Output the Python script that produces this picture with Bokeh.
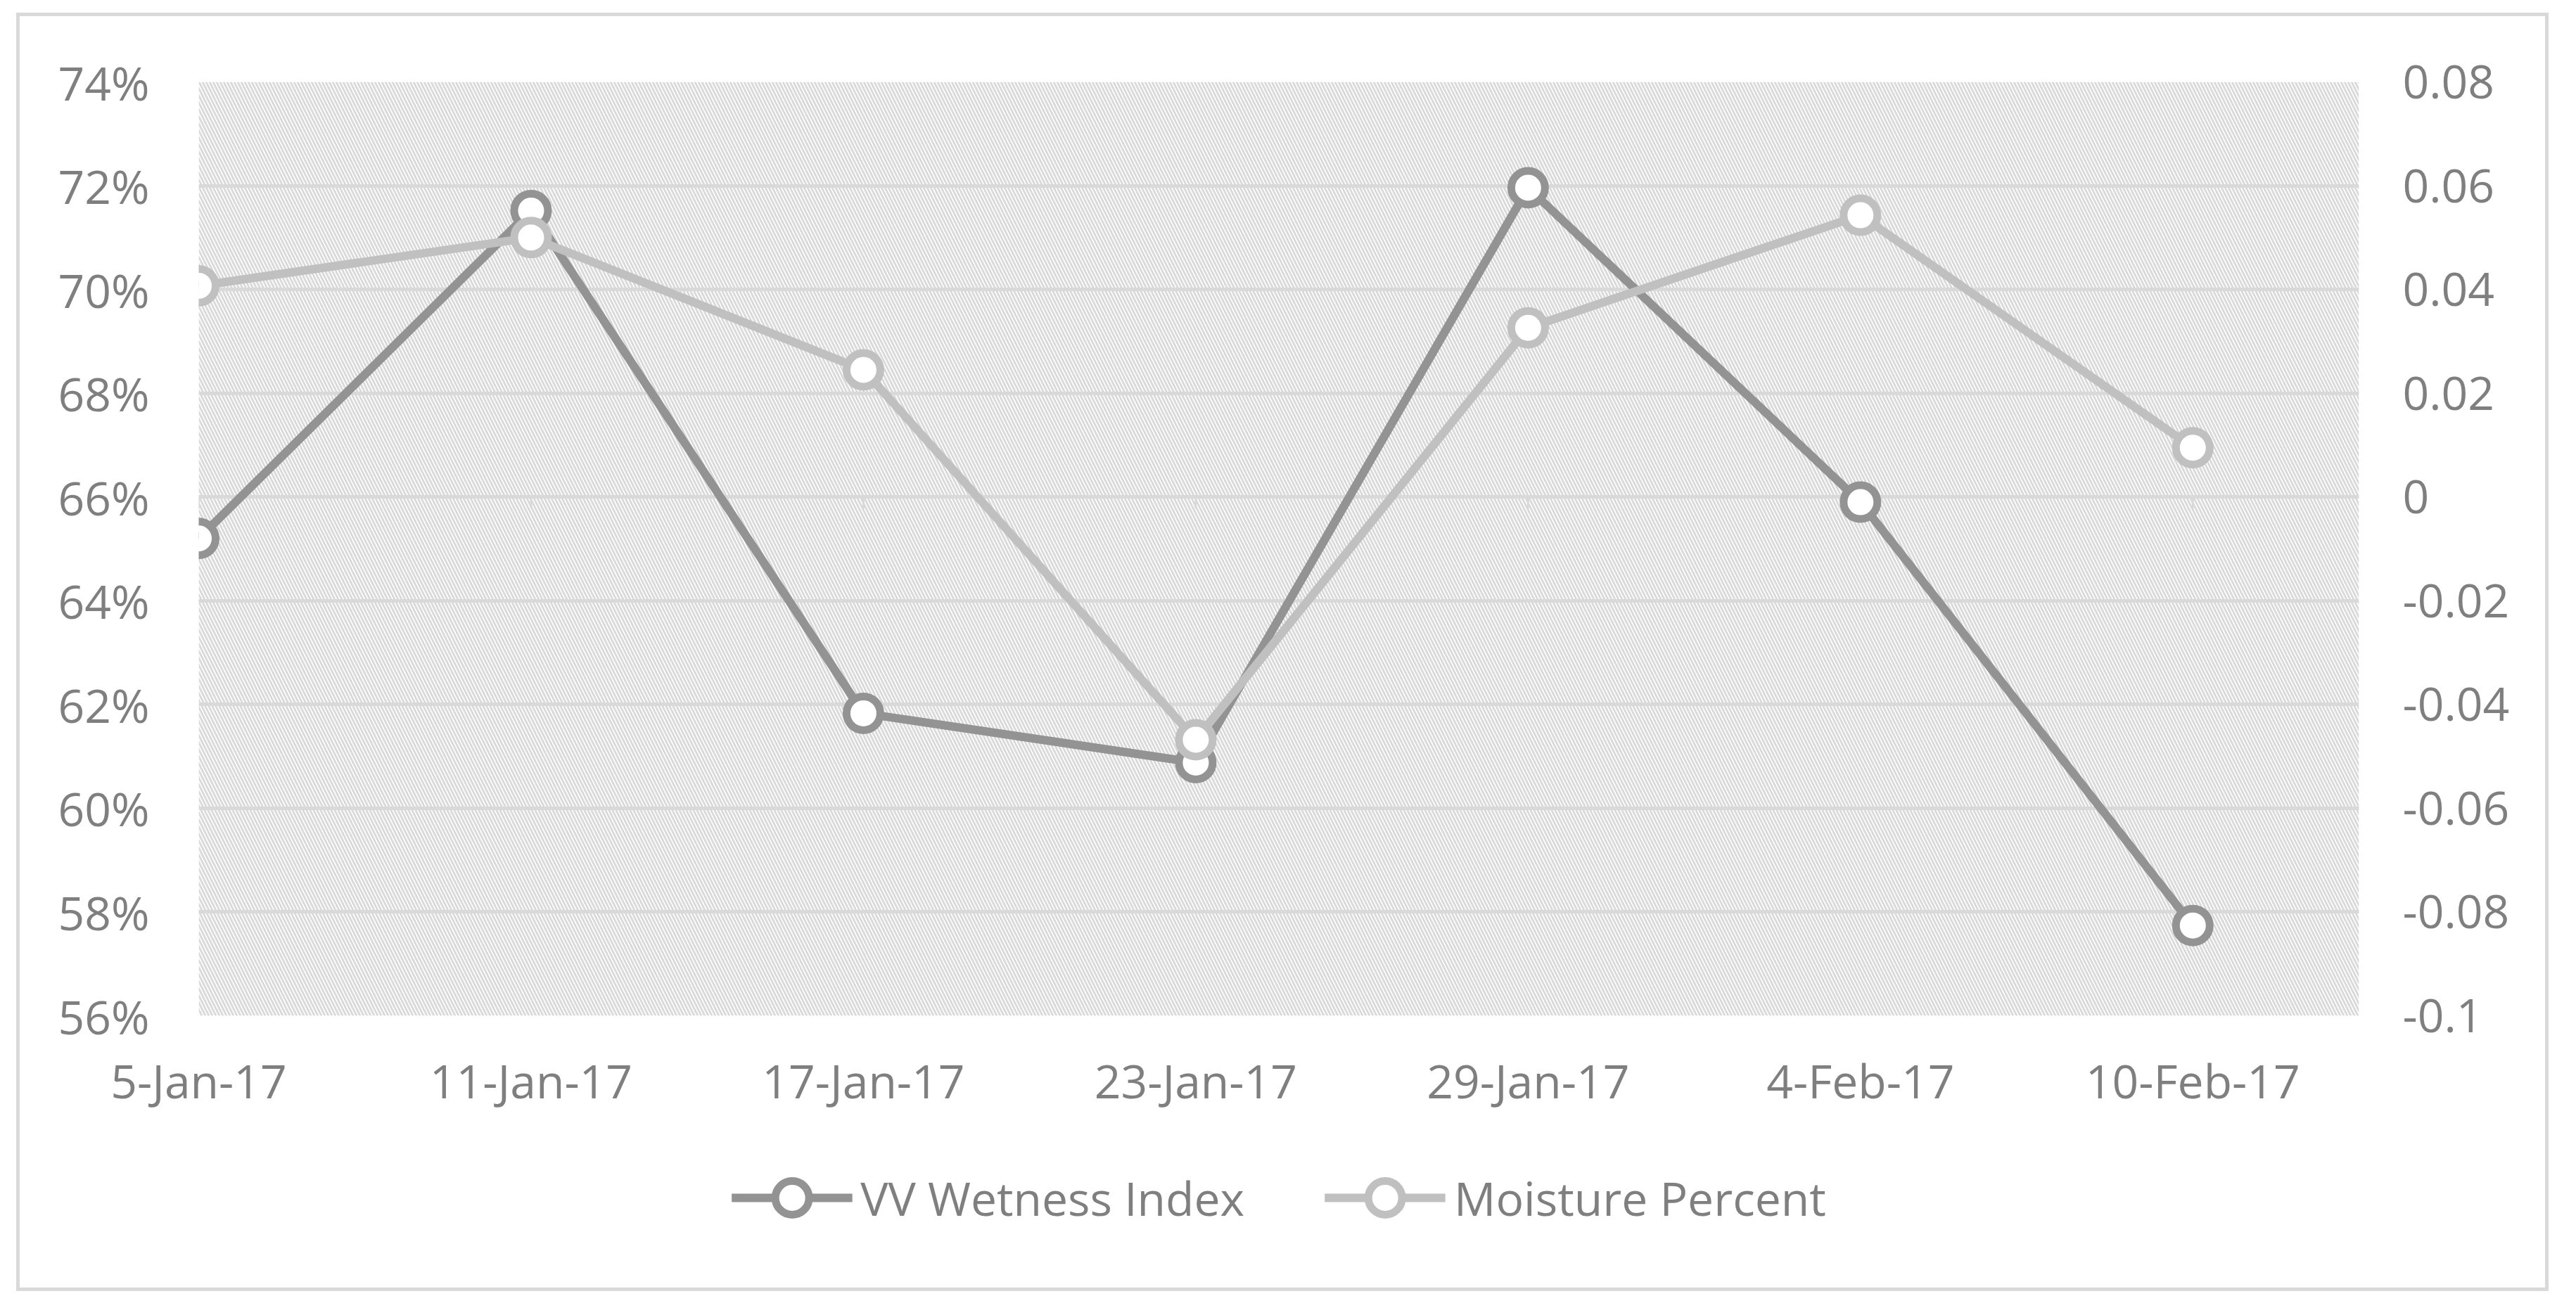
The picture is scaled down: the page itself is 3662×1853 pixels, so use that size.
import pandas as pd
from bokeh.plotting import figure
from bokeh.layouts import column
from bokeh.models import (Range1d, LinearAxis, FixedTicker, Legend, LegendItem, BoxAnnotation)
from bokeh.embed import file_html
from bokeh.resources import INLINE

# ---------------- data ----------------
dates = ["2017-01-05", "2017-01-11", "2017-01-17", "2017-01-23",
         "2017-01-29", "2017-02-04", "2017-02-10"]
date_labels = ["5-Jan-17", "11-Jan-17", "17-Jan-17", "23-Jan-17",
               "29-Jan-17", "4-Feb-17", "10-Feb-17"]
axis_end_date = "2017-02-13"

vv_wetness = [-0.0080, 0.0552, -0.0417, -0.0512, 0.0596, -0.0010, -0.0826]
moisture = [0.7007, 0.7100, 0.6845, 0.6132, 0.6926, 0.7143, 0.6695]

left_ticks = [0.56, 0.58, 0.60, 0.62, 0.64, 0.66, 0.68, 0.70, 0.72, 0.74]
left_labels = ["56%", "58%", "60%", "62%", "64%", "66%", "68%", "70%", "72%", "74%"]
right_ticks = [-0.1, -0.08, -0.06, -0.04, -0.02, 0.0, 0.02, 0.04, 0.06, 0.08]
right_labels = ["-0.1", "-0.08", "-0.06", "-0.04", "-0.02", "0", "0.02", "0.04", "0.06", "0.08"]

series_names = ["VV Wetness Index", "Moisture Percent"]

# ---------------- derived ----------------
d0 = pd.Timestamp(dates[0])
xs = [int((pd.Timestamp(d) - d0).days) for d in dates]
x_end = int((pd.Timestamp(axis_end_date) - d0).days)

FONT = "Open Sans"
TXT = "#7f7f7f"
GRID = "#d9d9d9"
DARK = "#939393"
LIGHT = "#c0c0c0"
FS = "66px"
BORDER = "5px solid #d9d9d9"

# ---------------- main chart ----------------
p = figure(width=3600, height=1573, output_backend="svg", toolbar_location=None,
           x_range=Range1d(0, x_end), y_range=Range1d(left_ticks[0], left_ticks[-1]),
           min_border_left=254, min_border_right=275, min_border_top=93,
           min_border_bottom=152)
p.styles = {"border-top": BORDER, "border-left": BORDER, "border-right": BORDER}
p.outline_line_color = None
p.background_fill_color = "white"
p.border_fill_color = "white"

p.extra_y_ranges = {"right": Range1d(right_ticks[0], right_ticks[-1])}

# hatched plot area
p.add_layout(BoxAnnotation(left=0, right=x_end, bottom=left_ticks[0], top=left_ticks[-1],
                           fill_alpha=0, line_color=None, hatch_pattern="\\",
                           hatch_color=GRID, hatch_scale=10, hatch_weight=2.8,
                           level="image"))

# grid
p.xgrid.visible = False
p.ygrid.ticker = FixedTicker(ticks=left_ticks)
p.ygrid.grid_line_color = GRID
p.ygrid.grid_line_width = 5

# axes
xa = p.xaxis[0]
xa.ticker = FixedTicker(ticks=xs)
xa.major_label_overrides = {x: l for x, l in zip(xs, date_labels)}
xa.major_label_standoff = 40

ya = p.yaxis[0]
ya.ticker = FixedTicker(ticks=left_ticks)
ya.major_label_overrides = {t: l for t, l in zip(left_ticks, left_labels)}
ya.major_label_standoff = 64

ra = LinearAxis(y_range_name="right", ticker=FixedTicker(ticks=right_ticks))
ra.major_label_overrides = {t: l for t, l in zip(right_ticks, right_labels)}
ra.major_label_standoff = 56
p.add_layout(ra, "right")

for ax in [xa, ya, ra]:
    ax.axis_line_color = None
    ax.major_tick_line_color = None
    ax.minor_tick_line_color = None
    ax.major_label_text_font = FONT
    ax.major_label_text_font_size = FS
    ax.major_label_text_color = TXT

# faint tick marks of the horizontal axis crossing at zero
p.segment(x0=xs, x1=xs, y0=[0.0] * len(xs), y1=[-0.0022] * len(xs),
          y_range_name="right", line_color=GRID, line_width=3)

# series
p.line(xs, vv_wetness, y_range_name="right", line_color=DARK, line_width=12)
p.scatter(xs, vv_wetness, y_range_name="right", size=48, fill_color="white",
          line_color=DARK, line_width=11)
p.line(xs, moisture, line_color=LIGHT, line_width=12)
p.scatter(xs, moisture, size=48, fill_color="white", line_color=LIGHT, line_width=11)

# ---------------- legend strip ----------------
q = figure(width=3600, height=245, output_backend="svg", toolbar_location=None,
           x_axis_location=None, y_axis_location=None,
           min_border_left=84, min_border_right=0, min_border_top=0, min_border_bottom=21)
q.styles = {"border-bottom": BORDER, "border-left": BORDER, "border-right": BORDER}
q.outline_line_color = None
q.grid.visible = False
q.background_fill_color = "white"
q.border_fill_color = "white"

# hidden copies of the series, used only for the legend swatches
kl1 = q.line(xs, vv_wetness, line_color=DARK, line_width=12, visible=False)
ks1 = q.scatter(xs, vv_wetness, size=48, fill_color="white", line_color=DARK,
                line_width=11, visible=False)
kl2 = q.line(xs, moisture, line_color=LIGHT, line_width=12, visible=False)
ks2 = q.scatter(xs, moisture, size=48, fill_color="white", line_color=LIGHT,
                line_width=11, visible=False)

legend = Legend(items=[LegendItem(label=series_names[0], renderers=[kl1, ks1]),
                       LegendItem(label=series_names[1], renderers=[kl2, ks2])],
                orientation="horizontal", location="center")
legend.label_text_font = FONT
legend.label_text_font_size = FS
legend.label_text_color = TXT
legend.glyph_width = 172
legend.glyph_height = 120
legend.label_standoff = 12
legend.spacing = 114
legend.padding = 0
legend.margin = 0
legend.border_line_color = None
legend.background_fill_alpha = 0
legend.inactive_fill_alpha = 0
q.add_layout(legend, "center")

layout = column(p, q, spacing=0, styles={"margin": "18px 0 0 23px"})

open("out.html", "w").write(file_html(layout, INLINE))
